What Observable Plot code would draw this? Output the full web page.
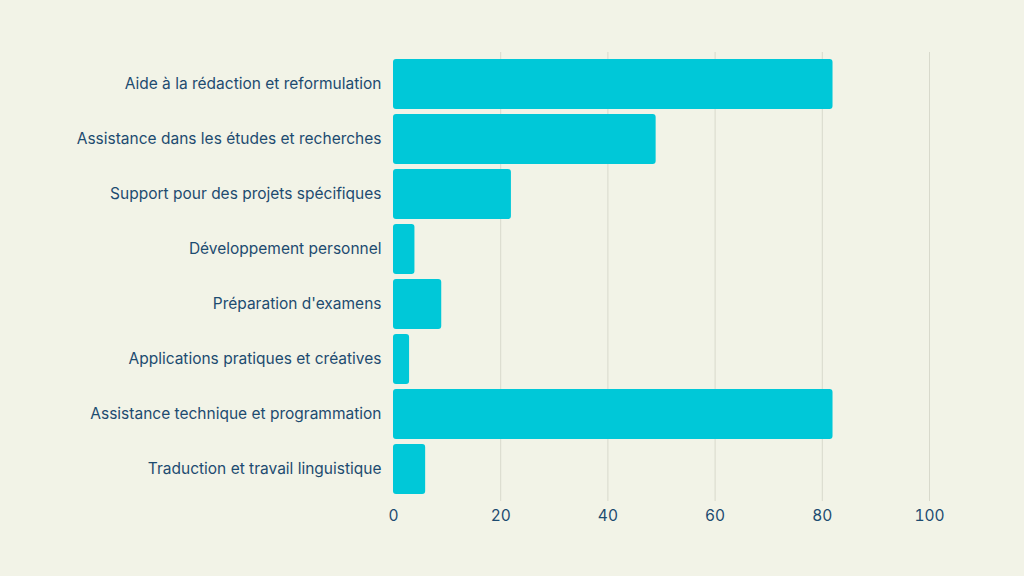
<!DOCTYPE html>
<html><head><meta charset="utf-8">
<script src="https://cdn.jsdelivr.net/npm/d3@7"></script>
<script src="https://cdn.jsdelivr.net/npm/@observablehq/plot@0.6"></script>
<style>html,body{margin:0;padding:0;background:#f2f3e7;width:1024px;height:576px;overflow:hidden}</style>
</head><body><div id="chart"></div>
<script>
const categories = ["Aide à la rédaction et reformulation","Assistance dans les études et recherches","Support pour des projets spécifiques","Développement personnel","Préparation d'examens","Applications pratiques et créatives","Assistance technique et programmation","Traduction et travail linguistique"];
const values = [82, 49, 22, 4, 9, 3, 82, 6];
const xTicks = [0, 20, 40, 60, 80, 100];
const data = categories.map((c, i) => ({category: c, value: values[i]}));
const chart = Plot.plot({
  width: 1024, height: 536,
  marginLeft: 393, marginRight: 95, marginTop: 52, marginBottom: 35,
  style: {background: "transparent", fontFamily: "Inter, 'Noto Sans', sans-serif", fontSize: "15.5px", color: "#1d4b70"},
  x: {domain: [0, 100], ticks: xTicks, label: null, tickSize: 0, tickPadding: 8},
  y: {domain: categories, label: null, tickSize: 0, tickPadding: 12, padding: 0.1},
  marks: [
    Plot.gridX(xTicks.slice(1), {stroke: "#d8d9cc", strokeOpacity: 1}),
    Plot.barX(data, {y: "category", x: "value", fill: "#00c8d8", rx: 3})
  ]
});
document.getElementById("chart").appendChild(chart);
</script></body></html>
